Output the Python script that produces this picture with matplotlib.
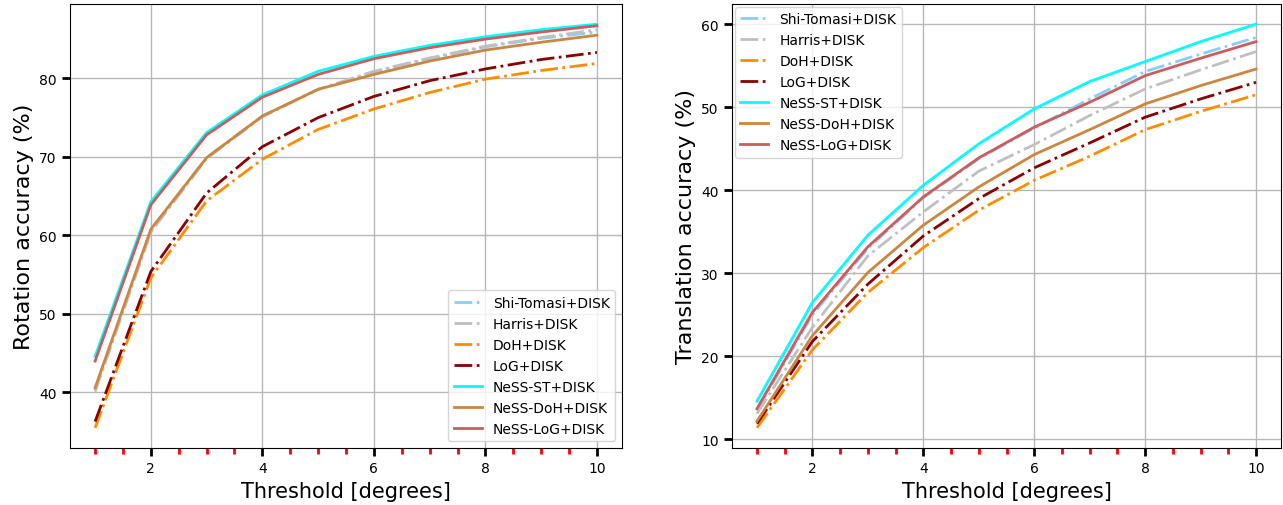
import matplotlib

matplotlib.use("Agg")
import matplotlib.pyplot as plt
from matplotlib.ticker import MultipleLocator

THRESH = [1, 2, 3, 4, 5, 6, 7, 8, 9, 10]

LABELS = ["Shi-Tomasi+DISK", "Harris+DISK", "DoH+DISK", "LoG+DISK",
          "NeSS-ST+DISK", "NeSS-DoH+DISK", "NeSS-LoG+DISK"]
COLORS = ["lightskyblue", "silver", "darkorange", "darkred",
          "cyan", "peru", "indianred"]
STYLES = ["-.", "-.", "-.", "-.", "-", "-", "-"]

# rotation accuracy (%)
rot_shi = [40.3, 60.6, 69.9, 75.2, 78.6, 80.8, 82.5, 84.0, 85.1, 85.9]
rot_harris = [40.1, 60.4, 69.8, 75.1, 78.6, 80.9, 82.6, 84.1, 85.2, 86.2]
rot_doh = [35.5, 54.6, 64.4, 69.7, 73.5, 76.1, 78.2, 79.9, 81.0, 81.9]
rot_log = [36.3, 55.4, 65.4, 71.3, 75.0, 77.7, 79.7, 81.2, 82.4, 83.3]
rot_ness_st = [44.6, 64.3, 73.1, 77.9, 80.9, 82.8, 84.2, 85.3, 86.2, 86.9]
rot_ness_doh = [40.6, 60.8, 69.9, 75.2, 78.6, 80.5, 82.2, 83.6, 84.6, 85.5]
rot_ness_log = [44.0, 63.9, 72.8, 77.6, 80.5, 82.5, 83.9, 85.0, 85.9, 86.7]

# translation accuracy (%)
tra_shi = [13.5, 25.0, 33.0, 39.1, 43.8, 47.5, 51.0, 54.3, 56.4, 58.4]
tra_harris = [13.1, 23.5, 32.1, 37.4, 42.3, 45.5, 49.0, 52.2, 54.5, 56.7]
tra_doh = [11.4, 20.8, 27.7, 33.1, 37.6, 41.2, 44.1, 47.3, 49.5, 51.5]
tra_log = [11.9, 21.8, 28.7, 34.5, 39.0, 42.7, 45.7, 48.8, 51.0, 53.0]
tra_ness_st = [14.6, 26.5, 34.6, 40.6, 45.6, 49.8, 53.1, 55.5, 57.9, 60.0]
tra_ness_doh = [12.2, 22.5, 30.1, 35.8, 40.4, 44.3, 47.3, 50.4, 52.6, 54.6]
tra_ness_log = [13.7, 25.3, 33.2, 39.2, 43.9, 47.6, 50.6, 53.8, 55.9, 57.9]

ROT = [rot_shi, rot_harris, rot_doh, rot_log, rot_ness_st, rot_ness_doh, rot_ness_log]
TRA = [tra_shi, tra_harris, tra_doh, tra_log, tra_ness_st, tra_ness_doh, tra_ness_log]


def draw(ax, series, ylabel, legend_loc, pad):
    for vals, lab, col, ls in zip(series, LABELS, COLORS, STYLES):
        ax.plot(THRESH, vals, ls, color=col, lw=2, label=lab)
    ax.xaxis.set_major_locator(MultipleLocator(2))
    ax.xaxis.set_minor_locator(MultipleLocator(0.5))
    ax.yaxis.set_major_locator(MultipleLocator(10))
    ax.tick_params(which="major", length=6, width=2, color="black", labelsize=10)
    ax.tick_params(axis="x", which="minor", length=4, width=2, color="red")
    ax.grid(True, which="major", color="#b8b8b8", lw=1)
    ax.set_axisbelow(True)
    ax.set_xlabel("Threshold [degrees]", fontsize=15)
    ax.set_ylabel(ylabel, fontsize=16)
    ax.legend(loc=legend_loc, fontsize=10, handlelength=2, borderaxespad=pad)


fig = plt.figure(figsize=(12.83, 5.06), dpi=100)
ax1 = fig.add_axes([70 / 1283, 57 / 506, 552 / 1283, 444 / 506])
ax2 = fig.add_axes([732 / 1283, 57 / 506, 549 / 1283, 444 / 506])

draw(ax1, ROT, "Rotation accuracy (%)", "lower right", 0.5)
draw(ax2, TRA, "Translation accuracy (%)", "upper left", 0.2)

fig.savefig("out.png", dpi=100)
